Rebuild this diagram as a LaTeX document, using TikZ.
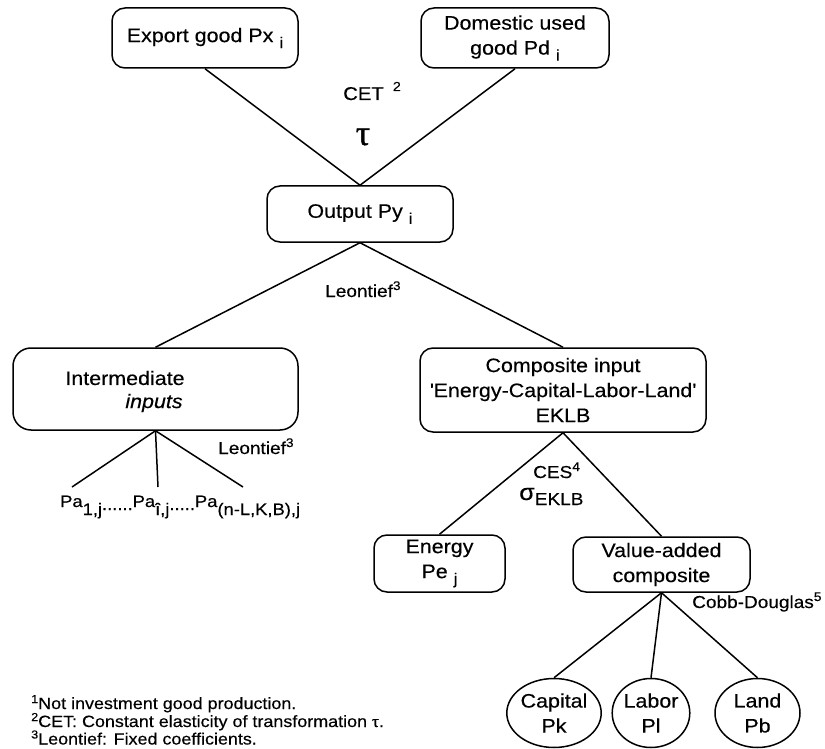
\documentclass[tikz,border=0pt]{standalone}
\usepackage{fontspec}
\setmainfont{Liberation Sans}[FakeStretch=1.1,FakeBold=0.35]
\newfontfamily\grserif{Liberation Serif}[FakeBold=0.8]
\usetikzlibrary{shapes.geometric}
\newcommand\bxf{\fontsize{19.5}{25}\selectfont}
\newcommand\lbf{\fontsize{17.3}{20}\selectfont}
\newcommand\fnf{\fontsize{16.3}{17.5}\selectfont}
\newcommand\sbi[1]{\ \raisebox{-6pt}{\fontsize{15.5}{15.5}\selectfont #1}}
\newcommand\sups[1]{\raisebox{7pt}{\fontsize{12.5}{12.5}\selectfont #1}}
\newcommand\fsup[1]{\raisebox{6pt}{\fontsize{11.5}{11.5}\selectfont #1}}
\newcommand\lowr[1]{\raisebox{-8pt}{#1}}
\newcommand\bigtau{{\grserif\fontsize{36}{36}\selectfont τ}}
\newcommand\smtau{{\grserif\fontsize{17}{17}\selectfont τ}}
\begin{document}
\begin{tikzpicture}[x=1pt,y=-1pt,
  box/.style={draw, rounded corners=13pt, line width=1.5pt, inner sep=0pt, align=center, font=\bxf},
  oval/.style={draw, ellipse, line width=1.5pt, inner sep=0pt, align=center, font=\bxf},
  conn/.style={line width=1.5pt},
  lab/.style={inner sep=0pt, font=\lbf},
  fn/.style={inner sep=0pt, anchor=base west, font=\fnf}]
\useasboundingbox (0,0) rectangle (825,749);
% boxes
\node[box, minimum width=186pt, minimum height=60pt] (export) at (205,38) {Export good Px\sbi{i}};
\node[box, minimum width=188pt, minimum height=60pt] (dom) at (515,38) {Domestic used\\good Pd\sbi{i}};
\node[box, minimum width=186pt, minimum height=56pt] (out) at (360,214) {Output Py\sbi{i}};
\node[box, rounded corners=18pt, minimum width=285pt, minimum height=82pt] (inter) at (155.5,389) {};
\node[lab, font=\bxf] (intert1) at (125,378) {Intermediate};
\node[lab, font=\bxf\itshape] (intert2) at (154,403) {inputs};
\node[box, minimum width=286pt, minimum height=84pt] (comp) at (563,390) {Composite input\\\textquotesingle Energy-Capital-Labor-Land\textquotesingle\\EKLB};
\node[box, minimum width=131pt, minimum height=57pt] (energy) at (439.5,563.5) {Energy\\Pe\sbi{j}};
\node[box, minimum width=177pt, minimum height=55pt] (va) at (661.5,564.5) {Value-added\\composite};
\node[oval, minimum width=92pt, minimum height=69pt] (capital) at (554,713) {Capital\\Pk};
\node[oval, minimum width=74pt, minimum height=69pt] (labor) at (651,713) {Labor\\Pl};
\node[oval, minimum width=85pt, minimum height=69pt] (land) at (757.5,713) {Land\\Pb};
% fan end points
\coordinate (p1) at (72,487);
\coordinate (p2) at (158,487);
\coordinate (p3) at (243,487);
% connectors
\draw[conn] (export.south) -- (out.north);
\draw[conn] (dom.south) -- (out.north);
\draw[conn] (out.south) -- (inter.north);
\draw[conn] (out.south) -- (comp.north);
\draw[conn] (inter.south) -- (p1);
\draw[conn] (inter.south) -- (p2);
\draw[conn] (inter.south) -- (p3);
\draw[conn] (comp.south) -- (energy.north);
\draw[conn] (comp.south) -- (va.north);
\draw[conn] (va.south) -- (capital.north);
\draw[conn] (va.south) -- (labor.north);
\draw[conn] (va.south) -- (land.north);
% labels
\node[lab, anchor=base west, font=\fontsize{18.5}{18.5}\selectfont] (cet) at (343,100) {CET\hspace{9pt}\raisebox{9pt}{\fontsize{13}{13}\selectfont 2}};
\node[lab, anchor=base] (tau) at (363,145) {\bigtau};
\node[lab, anchor=base west] (leo1) at (325,297) {Leontief\sups{3}};
\node[lab, anchor=base west] (leo2) at (218,454) {Leontief\sups{3}};
\node[lab, anchor=base west] (pa) at (60,507) {\fontsize{16.7}{16.7}\selectfont Pa\lowr{1,j}\raisebox{-3pt}{......}Pa\lowr{î,j}\raisebox{-3pt}{.....}Pa\lowr{(n-L,K,B),j}};
\node[lab, anchor=base west] (ces) at (533,478) {CES\sups{4}};
\node[lab, anchor=base west] (sig) at (519,500) {{\fontsize{23}{23}\selectfont σ}\raisebox{-5pt}{EKLB}};
\node[lab, anchor=base west] (cobb) at (692,608) {Cobb-Douglas\sups{5}};
% footnotes
\node[fn] (fn1) at (31,709) {\fsup{1}Not investment good production.};
\node[fn] (fn2) at (31,727) {\fsup{2}CET: Constant elasticity of transformation \smtau.};
\node[fn] (fn3) at (31,744.5) {\fsup{3}Leontief: Fixed coefficients.};
\end{tikzpicture}
\end{document}
